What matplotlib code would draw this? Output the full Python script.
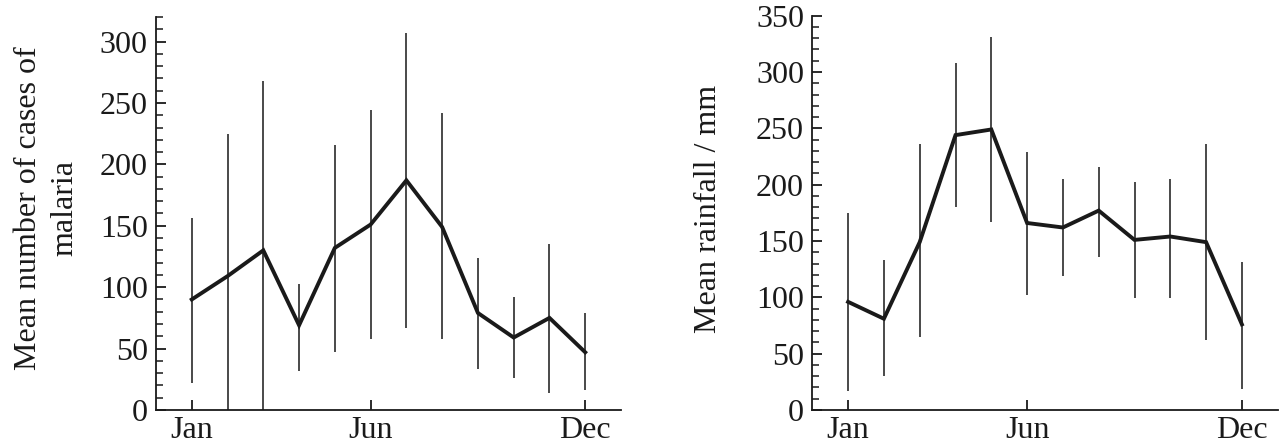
import numpy as np
import matplotlib
matplotlib.use("Agg")
import matplotlib.pyplot as plt
from matplotlib.ticker import MultipleLocator, FixedLocator

plt.rcParams["font.family"] = ["Liberation Serif", "DejaVu Serif"]

months = np.arange(1, 13)
month_ticks = [1, 6, 12]
month_labels = ["Jan", "Jun", "Dec"]

# malaria cases: mean with error-bar low / high
malaria_mean = [90, 109, 130, 69, 132, 151, 187, 149, 79, 59, 75, 47]
malaria_low = [22, 0, 0, 32, 47, 58, 67, 58, 33, 26, 14, 16]
malaria_high = [156, 225, 268, 103, 216, 244, 307, 242, 124, 92, 135, 79]

# rainfall / mm
rain_mean = [96, 81, 149, 244, 249, 166, 162, 177, 151, 154, 149, 76]
rain_low = [17, 30, 65, 180, 167, 102, 119, 136, 99, 99, 62, 19]
rain_high = [175, 133, 236, 308, 331, 229, 205, 216, 202, 205, 236, 131]

W, H = 1284, 448
fig = plt.figure(figsize=(W / 100, H / 100), dpi=100)
ax1 = fig.add_axes([156 / W, 38 / H, 465 / W, 393 / H])
ax2 = fig.add_axes([812.3 / W, 38 / H, 465.4 / W, 394.3 / H])

FS = 23
LW_SPINE = 1.3


def style(ax, ymax):
    ax.set_xlim(0, 13)
    ax.set_ylim(0, ymax)
    for side in ("top", "right"):
        ax.spines[side].set_visible(False)
    for side in ("left", "bottom"):
        ax.spines[side].set_linewidth(LW_SPINE)
        ax.spines[side].set_color("#1a1a1a")
    ax.xaxis.set_major_locator(FixedLocator(month_ticks))
    ax.set_xticklabels(month_labels)
    ax.yaxis.set_major_locator(MultipleLocator(50))
    ax.yaxis.set_minor_locator(MultipleLocator(10))
    ax.tick_params(axis="both", which="major", direction="in", length=7,
                   width=LW_SPINE, labelsize=FS, color="#1a1a1a",
                   labelcolor="#1a1a1a")
    ax.tick_params(axis="y", which="minor", direction="in", length=5,
                   width=1.1, color="#1a1a1a")
    ax.tick_params(axis="y", which="major", pad=6)
    ax.tick_params(axis="x", which="major", pad=4)


for ax, mean, low, high, ymax in [
        (ax1, malaria_mean, malaria_low, malaria_high, 320),
        (ax2, rain_mean, rain_low, rain_high, 350)]:
    ax.vlines(months, low, high, color="#2a2a2a", lw=1.2)
    ax.plot(months, mean, color="#1a1a1a", lw=2.8, solid_joinstyle="miter")
    style(ax, ymax)

ax1.set_ylabel("Mean number of cases of\nmalaria", fontsize=FS,
               linespacing=1.35, color="#1a1a1a")
ax1.yaxis.set_label_coords(-0.165, 0.513)
ax2.set_ylabel("Mean rainfall / mm", fontsize=FS, color="#1a1a1a")
ax2.yaxis.set_label_coords(-0.192, 0.51)

fig.savefig("out.png", dpi=100)
